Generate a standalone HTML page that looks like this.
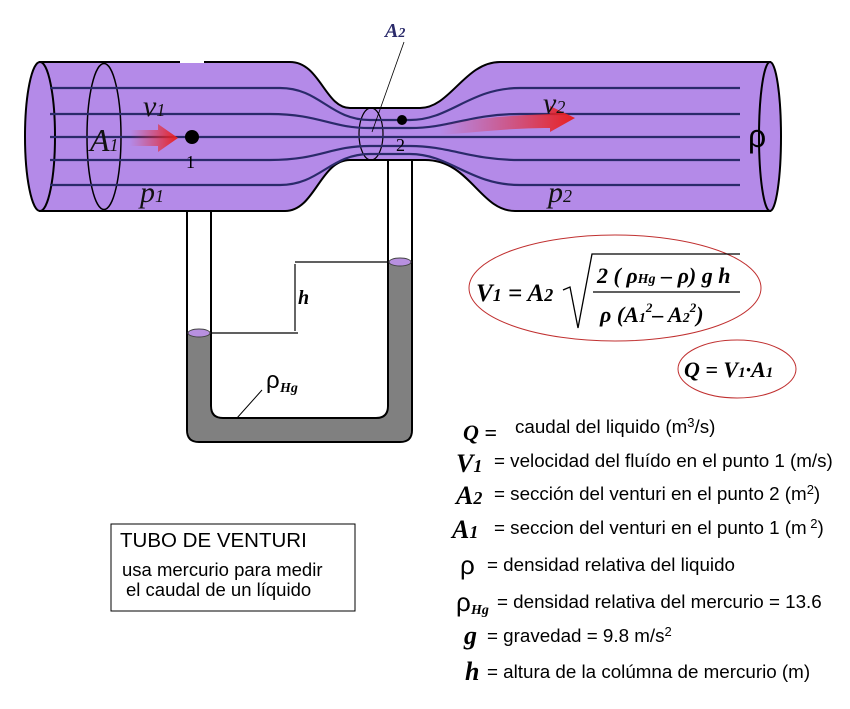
<!DOCTYPE html>
<html><head><meta charset="utf-8"><style>
body{margin:0;background:#fff}
svg{display:block}
.s{font-family:"Liberation Sans",sans-serif}
.m{font-family:"Liberation Serif",serif;font-style:italic;font-weight:bold}
</style></head><body>
<svg width="850" height="709" viewBox="0 0 850 709" xmlns="http://www.w3.org/2000/svg">
<defs>
<linearGradient id="ar" x1="0" x2="1"><stop offset="0" stop-color="#e03040" stop-opacity="0"/><stop offset="1" stop-color="#e82020"/></linearGradient>
</defs>
<!-- tubes below -->
<path d="M188 333 V430 Q188 441 199 441 H400 Q411 441 411 430 V262 H389 V406 Q389 417 376 417 H223 Q210 417 210 406 V333 Z" fill="#808080"/>
<path d="M187 211 V430 Q187 442 199 442 H400 Q412 442 412 430 V160" fill="none" stroke="#000" stroke-width="2"/>
<path d="M211 211 V406 Q211 418 223 418 H376 Q388 418 388 406 V160" fill="none" stroke="#000" stroke-width="2"/>
<ellipse cx="199" cy="333" rx="11" ry="4" fill="#b890e0" stroke="#444"/>
<ellipse cx="400" cy="262" rx="11" ry="4" fill="#b890e0" stroke="#444"/>
<path d="M211 333 H298 M295 262 H388 M295 264 V331" stroke="#000" stroke-width="1.2"/>
<text x="298" y="304" class="m" font-size="20">h</text>
<path d="M237 418 L262 390" stroke="#000"/>
<text x="266" y="388" font-family="Liberation Sans,sans-serif" font-size="24">ρ</text>
<text x="280" y="392" class="m" font-size="14">Hg</text>
<!-- venturi body -->
<path d="M40 62 H290 C320 62 325 108 350 108 H420 C450 108 465 62 500 62 H770 V211 H515 C480 211 470 160 425 160 H350 C320 160 315 211 285 211 H40 Z" fill="#b48ae8" stroke="#000" stroke-width="2"/>
<ellipse cx="40" cy="136.5" rx="15" ry="74.5" fill="#b48ae8" stroke="#000" stroke-width="2"/>
<ellipse cx="104" cy="136.5" rx="17" ry="73" fill="none" stroke="#000" stroke-width="1.5"/>
<ellipse cx="770" cy="136.5" rx="11" ry="74.5" fill="#b48ae8" stroke="#000" stroke-width="2"/>
<ellipse cx="371" cy="134" rx="12" ry="26" fill="none" stroke="#000" stroke-width="1.2"/>
<rect x="180" y="59" width="24" height="4" fill="#fff"/>
<g fill="none" stroke="#2a2a6a" stroke-width="2.2">
<path d="M50 88 H280 C320 88 330 120 370 120 H410 C450 120 470 88 520 88 H740"/>
<path d="M50 114 H270 C320 114 330 128 370 128 H410 C450 128 470 114 520 114 H740"/>
<path d="M50 137 H740"/>
<path d="M50 160 H270 C320 160 330 146 370 146 H410 C450 146 470 160 520 160 H740"/>
<path d="M50 185 H280 C320 185 330 154 370 154 H410 C450 154 470 185 520 185 H740"/>
</g>
<path d="M130 130 H158 V124 L178 138 L158 152 V146 H130 Z" fill="url(#ar)"/>
<path d="M440 125 C480 118 500 116 550 114 V106 L575 118 L550 132 V128 C510 128 480 132 440 135 Z" fill="url(#ar)"/>
<circle cx="192" cy="137" r="7" fill="#000"/>
<circle cx="402" cy="120" r="5" fill="#000"/>
<path d="M372 132 L404 42" stroke="#000" stroke-width="0.8"/>
<text x="385" y="37" class="m" font-size="20" font-weight="normal" fill="#2a2a6a">A<tspan font-size="14">2</tspan></text>
<g font-family="Liberation Serif,serif" font-style="italic" fill="#111">
<text x="90" y="151" font-size="32">A<tspan font-size="18">1</tspan></text>
<text x="143" y="116" font-size="30">v<tspan font-size="18">1</tspan></text>
<text x="140" y="202" font-size="30">p<tspan font-size="18">1</tspan></text>
<text x="543" y="113" font-size="30">v<tspan font-size="18">2</tspan></text>
<text x="548" y="202" font-size="30">p<tspan font-size="18">2</tspan></text>
</g>
<text x="186" y="168" font-family="Liberation Serif,serif" font-size="18">1</text>
<text x="396" y="151" font-family="Liberation Serif,serif" font-size="18">2</text>
<text x="748" y="147" font-family="Liberation Sans,sans-serif" font-size="32">ρ</text>
<!-- formulas -->
<ellipse cx="615" cy="288" rx="146" ry="53" fill="none" stroke="#c03030" stroke-width="1"/>
<text x="476" y="301" class="m" font-size="25">V<tspan font-size="18">1</tspan> = A<tspan font-size="18">2</tspan></text>
<path d="M563 290 L570 287 L578 328 L592 254 H740" fill="none" stroke="#000" stroke-width="1.3"/>
<line x1="593" y1="292" x2="740" y2="292" stroke="#000" stroke-width="1.3"/>
<text x="597" y="283" class="m" font-size="22">2 ( ρ<tspan font-size="14">Hg</tspan> – ρ) g h</text>
<text x="600" y="322" class="m" font-size="22">ρ  (A<tspan font-size="14">1</tspan><tspan font-size="13" dy="-10">2</tspan><tspan dy="10">– A</tspan><tspan font-size="14">2</tspan><tspan font-size="13" dy="-10">2</tspan><tspan dy="10">)</tspan></text>
<ellipse cx="737" cy="369" rx="59" ry="29" fill="none" stroke="#c03030" stroke-width="1"/>
<text x="684" y="377" class="m" font-size="22">Q = V<tspan font-size="15">1</tspan>·A<tspan font-size="15">1</tspan></text>
<!-- legend -->
<g class="s" font-size="18.8" fill="#000">
<text x="463" y="440" class="m" font-size="22" font-weight="normal">Q =</text><text x="515" y="433">caudal del liquido (m<tspan font-size="13" dy="-6">3</tspan><tspan dy="6">/s)</tspan></text>
<text x="456" y="472" class="m" font-size="26">V<tspan font-size="18">1</tspan></text><text x="494" y="467">= velocidad del fluído en el punto 1 (m/s)</text>
<text x="456" y="504" class="m" font-size="26">A<tspan font-size="18">2</tspan></text><text x="494" y="500">= sección del venturi en el punto 2 (m<tspan font-size="13" dy="-6">2</tspan><tspan dy="6">)</tspan></text>
<text x="452" y="538" class="m" font-size="26">A<tspan font-size="18">1</tspan></text><text x="494" y="534">= seccion del venturi en el punto 1 (m<tspan font-size="13" dy="-6"> 2</tspan><tspan dy="6">)</tspan></text>
<text x="460" y="574" font-size="26">ρ</text><text x="487" y="571">= densidad relativa del liquido</text>
<text x="456" y="611" font-size="26">ρ</text><text x="471" y="614" class="m" font-size="14">Hg</text><text x="497" y="608">= densidad relativa del mercurio = 13.6</text>
<text x="464" y="644" class="m" font-size="26">g</text><text x="487" y="642">= gravedad = 9.8 m/s<tspan font-size="13" dy="-6">2</tspan></text>
<text x="465" y="680" class="m" font-size="26">h</text><text x="487" y="678">= altura de la colúmna de mercurio (m)</text>
</g>
<rect x="111" y="524" width="244" height="87" fill="none" stroke="#000" stroke-width="1"/>
<g class="s" fill="#000">
<text x="120" y="547" font-size="20.5">TUBO DE VENTURI</text>
<text x="122" y="576" font-size="18.5">usa mercurio para medir</text>
<text x="126" y="596" font-size="18.5">el caudal de un líquido</text>
</g>
</svg>
</body></html>
